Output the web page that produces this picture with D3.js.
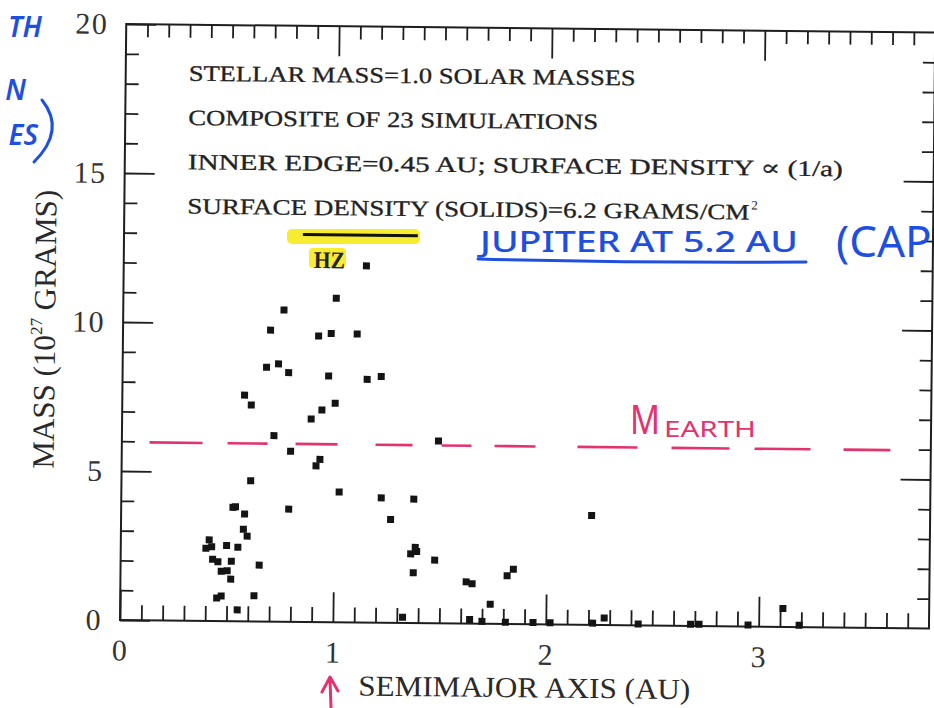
<!DOCTYPE html>
<html>
<head>
<meta charset="utf-8">
<script src="https://cdn.jsdelivr.net/npm/d3@7"></script>
<style>
  html, body { margin: 0; padding: 0; background: #ffffff; }
  svg { display: block; }
</style>
</head>
<body>
<svg id="chart" width="934" height="708"></svg>
<script>
// Final planets from the composite of runs: semimajor axis (AU) and mass (10^27 g)
const semimajorAU = [
  1.14, 1.00, 0.755, 0.693, 0.919, 0.978, 1.100, 0.676, 0.732, 0.780,
  0.968, 1.149, 1.215, 0.574, 0.606, 1.000, 0.938, 0.888, 0.714, 1.487,
  0.793, 0.931, 0.913, 0.607, 1.023, 1.221, 1.374, 0.525, 0.537, 0.787,
  0.580, 1.266, 0.575, 0.593, 0.415, 0.400, 0.427, 0.497, 0.550, 0.432,
  0.457, 0.520, 0.473, 0.501, 0.518, 0.651, 1.362, 1.383, 1.390, 1.375,
  1.475, 0.453, 0.474, 0.628, 0.550, 1.327, 1.624, 1.652, 1.816, 1.845,
  1.738, 2.210, 1.642, 2.274, 2.434, 3.113, 1.700, 1.810, 1.940, 2.020,
  2.220, 2.680, 2.720, 2.950, 3.190
];
const massE27g = [
  11.97, 10.87, 10.46, 9.78, 9.60, 9.69, 9.68, 8.53, 8.65, 8.36,
  8.26, 8.16, 8.26, 7.59, 7.26, 7.35, 7.12, 6.81, 6.24, 6.12,
  5.72, 5.46, 5.24, 4.72, 4.37, 4.19, 4.16, 3.82, 3.84, 3.78,
  3.60, 3.47, 3.09, 2.86, 2.72, 2.44, 2.49, 2.54, 2.48, 2.07,
  1.99, 2.01, 1.67, 1.69, 1.41, 1.89, 2.32, 2.54, 2.40, 1.69,
  2.12, 0.77, 0.84, 0.86, 0.38, 0.19, 1.40, 1.34, 1.62, 1.84,
  0.66, 3.67, 0.14, 0.24, 0.05, 0.62, 0.08, 0.06, 0.06, 0.06,
  0.06, 0.06, 0.06, 0.05, 0.06
];

// Axis ticks and labels
const xMajorTicks = [0, 1, 2, 3];
const xTickLabels = ["0", "1", "2", "3"];
const yMajorTicks = [0, 5, 10, 15, 20];
const yTickLabels = ["0", "5", "10", "15", "20"];

// Reference levels
const earthMass = 5.97;            // 10^27 g
const earthLineSpan = [0.13, 3.61];
const hzRange = [0.84, 1.38];      // AU
const hzLevel = 13.0;

const infoLines = [
  "STELLAR MASS=1.0 SOLAR MASSES",
  "COMPOSITE OF 23 SIMULATIONS",
  "INNER EDGE=0.45 AU; SURFACE DENSITY \u221D (1/a)",
  "SURFACE DENSITY (SOLIDS)=6.2 GRAMS/CM"
];
const infoWidths = [447, 410, 655, 562];

const ink = "#1e1e1e";
const pink = "#e3336f";
const blue = "#1f4fe0";
const serif = "'Liberation Serif', 'DejaVu Serif', serif";
const hand = "'Noto Sans', 'DejaVu Sans', sans-serif";

const svg = d3.select("#chart");
svg.append("rect").attr("width", 934).attr("height", 708).attr("fill", "#ffffff");

const x = d3.scaleLinear().domain([0, 3.8]).range([120, 929]);
const y = d3.scaleLinear().domain([0, 20]).range([620, 24]);

// Highlighter strokes sit under the printed plot
svg.append("rect").attr("x", 287).attr("y", 229).attr("width", 133).attr("height", 15)
  .attr("rx", 5).attr("fill", "#f6ea1a").attr("opacity", 0.9);
svg.append("rect").attr("x", 309).attr("y", 248).attr("width", 37).attr("height", 20)
  .attr("rx", 4).attr("fill", "#f6ea1a").attr("opacity", 0.9);

// The printed plot, sitting slightly askew on the page
const g = svg.append("g").attr("transform", "rotate(0.6,120,620)");

g.append("rect")
  .attr("x", x(0)).attr("y", y(20))
  .attr("width", x(3.8) - x(0)).attr("height", y(0) - y(20))
  .attr("fill", "none").attr("stroke", ink).attr("stroke-width", 2);

const xMinor = d3.range(1, 38).map(i => i / 10).filter(v => Math.abs(v - Math.round(v)) > 1e-6);
const yMinor = d3.range(1, 20).filter(v => v % 5 !== 0);

function ticks(axis, transform, values, size) {
  const a = g.append("g").attr("transform", transform)
    .call(axis.tickValues(values).tickSizeInner(-size).tickSizeOuter(0).tickFormat(""));
  a.select(".domain").remove();
  a.selectAll(".tick line").attr("stroke", ink).attr("stroke-width", 1.8);
  return a;
}

ticks(d3.axisBottom(x), `translate(0,${y(0)})`, xMinor, 15);
ticks(d3.axisTop(x), `translate(0,${y(20)})`, xMinor, 13);
ticks(d3.axisTop(x), `translate(0,${y(20)})`, xMajorTicks.slice(1), 30);
ticks(d3.axisLeft(y), `translate(${x(0)},0)`, yMinor, 13);
ticks(d3.axisRight(y), `translate(${x(3.8)},0)`, yMinor, 12);
ticks(d3.axisRight(y), `translate(${x(3.8)},0)`, yMajorTicks.slice(1, -1), 30);

// Labelled axes
const xAxis = g.append("g").attr("transform", `translate(0,${y(0)})`)
  .call(d3.axisBottom(x).tickValues(xMajorTicks).tickSizeInner(-30).tickSizeOuter(0)
    .tickPadding(19).tickFormat((d, i) => xTickLabels[i]));
const yAxis = g.append("g").attr("transform", `translate(${x(0)},0)`)
  .call(d3.axisLeft(y).tickValues(yMajorTicks).tickSizeInner(-30).tickSizeOuter(0)
    .tickPadding(18).tickFormat((d, i) => yTickLabels[i]));
[xAxis, yAxis].forEach(a => {
  a.select(".domain").remove();
  a.selectAll(".tick line").attr("stroke", ink).attr("stroke-width", 1.8);
  a.selectAll(".tick text").attr("fill", "#333").attr("font-family", serif)
    .attr("font-size", 30).attr("letter-spacing", 1.5);
});

// Axis titles
g.append("text").attr("x", 525).attr("y", 693).attr("text-anchor", "middle")
  .attr("font-family", serif).attr("font-size", 29).attr("fill", "#2a2a2a")
  .attr("textLength", 332).attr("lengthAdjust", "spacingAndGlyphs")
  .text("SEMIMAJOR AXIS (AU)");

const yTitle = g.append("text").attr("transform", "translate(52,330) rotate(-90)")
  .attr("text-anchor", "middle").attr("font-family", serif).attr("font-size", 31)
  .attr("fill", "#2a2a2a");
yTitle.append("tspan").text("MASS (10");
yTitle.append("tspan").attr("font-size", 17).attr("dy", -13).text("27");
yTitle.append("tspan").attr("dy", 13).text(" GRAMS)");

// Run description
infoLines.forEach((line, i) => {
  g.append("text").attr("x", 183).attr("y", 80 + i * 44.3)
    .attr("font-family", serif).attr("font-size", 22).attr("fill", "#222")
    .attr("stroke", "#222").attr("stroke-width", 0.3)
    .attr("textLength", infoWidths[i]).attr("lengthAdjust", "spacingAndGlyphs")
    .text(line);
});
g.append("text").attr("x", 183 + infoWidths[3] + 2).attr("y", 80 + 3 * 44.3 - 10)
  .attr("font-family", serif).attr("font-size", 13).attr("fill", "#222").text("2");

// Habitable zone bar
g.append("line")
  .attr("x1", x(hzRange[0])).attr("x2", x(hzRange[1]))
  .attr("y1", y(hzLevel)).attr("y2", y(hzLevel))
  .attr("stroke", "#111").attr("stroke-width", 3);
g.append("text").attr("x", 310).attr("y", 266)
  .attr("font-family", serif).attr("font-weight", "bold").attr("font-size", 24)
  .attr("fill", "#222").attr("textLength", 31).attr("lengthAdjust", "spacingAndGlyphs")
  .text("HZ");

// Earth-mass reference, dashed by hand
g.append("line")
  .attr("x1", x(earthLineSpan[0])).attr("x2", x(earthLineSpan[1]))
  .attr("y1", y(earthMass)).attr("y2", y(earthMass))
  .attr("stroke", pink).attr("stroke-width", 2.6)
  .attr("stroke-dasharray", "53,25,40,28,42,38,37,29,30,23,41,42,60,34,58,25,56,33,47");

// Planets
g.selectAll("rect.planet")
  .data(d3.zip(semimajorAU, massE27g))
  .join("rect").attr("class", "planet")
  .attr("x", d => x(d[0]) - 3.5).attr("y", d => y(d[1]) - 3.5)
  .attr("width", 7).attr("height", 7).attr("fill", "#141414");

// Handwritten notes
svg.append("text").attr("x", 630).attr("y", 434)
  .attr("font-family", hand).attr("font-size", 40).attr("fill", pink)
  .attr("textLength", 30).attr("lengthAdjust", "spacingAndGlyphs").text("M");
svg.append("text").attr("x", 664).attr("y", 437)
  .attr("font-family", hand).attr("font-size", 21).attr("fill", pink)
  .attr("textLength", 92).attr("lengthAdjust", "spacingAndGlyphs").text("EARTH");

svg.append("text").attr("x", 480).attr("y", 252)
  .attr("font-family", hand).attr("font-weight", 500).attr("font-size", 28).attr("fill", blue)
  .attr("textLength", 318).attr("lengthAdjust", "spacingAndGlyphs")
  .text("JUPITER AT 5.2 AU");
svg.append("path").attr("d", "M478,259 Q640,263 806,262")
  .attr("fill", "none").attr("stroke", blue).attr("stroke-width", 3).attr("stroke-linecap", "round");
svg.append("text").attr("x", 836).attr("y", 257)
  .attr("font-family", hand).attr("font-size", 44).attr("fill", blue).text("(CAP");

svg.append("text").attr("x", 42).attr("y", 37).attr("text-anchor", "end")
  .attr("font-family", hand).attr("font-style", "italic").attr("font-weight", 600)
  .attr("font-size", 28).attr("fill", blue).text("TH");
svg.append("text").attr("x", 26).attr("y", 100).attr("text-anchor", "end")
  .attr("font-family", hand).attr("font-style", "italic").attr("font-weight", 600)
  .attr("font-size", 28).attr("fill", blue).text("N");
svg.append("text").attr("x", 38).attr("y", 145).attr("text-anchor", "end")
  .attr("font-family", hand).attr("font-style", "italic").attr("font-weight", 600)
  .attr("font-size", 28).attr("fill", blue).text("ES");
svg.append("path").attr("d", "M42,100 Q66,130 34,162")
  .attr("fill", "none").attr("stroke", blue).attr("stroke-width", 3).attr("stroke-linecap", "round");

// Arrow pointing at 1 AU
svg.append("path").attr("d", "M331,708 L330,679 M322,692 L330,677 L338,691")
  .attr("fill", "none").attr("stroke", pink).attr("stroke-width", 3)
  .attr("stroke-linecap", "round").attr("stroke-linejoin", "round");
</script>
</body>
</html>
